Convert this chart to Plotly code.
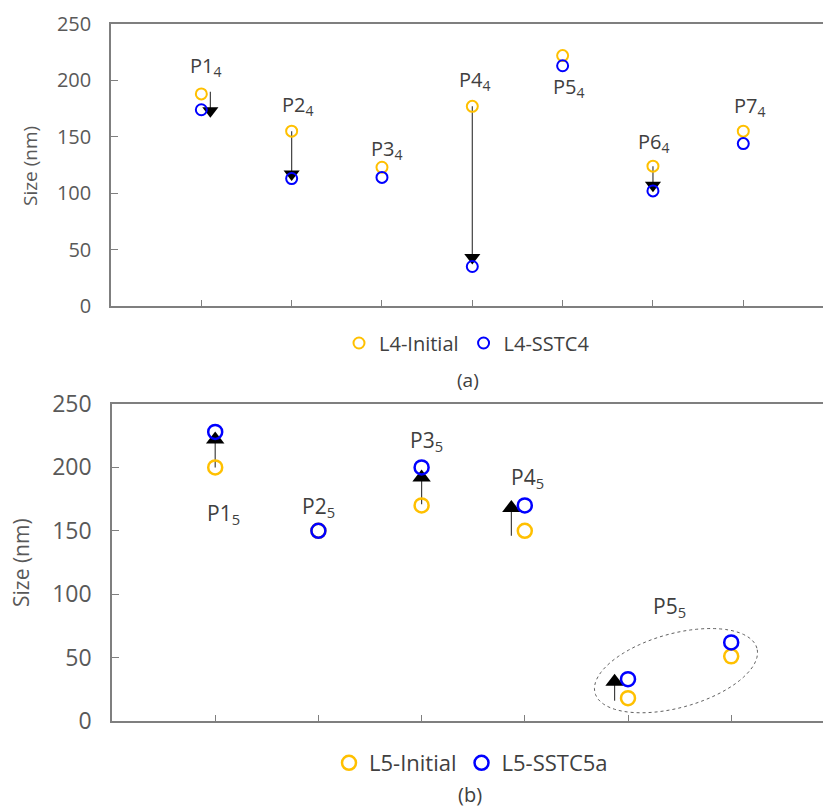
import numpy as np
import plotly.graph_objects as go

# ---------------- data ----------------
top_x = [1, 2, 3, 4, 5, 6, 7]
top_labels = ["P1<sub>4</sub>", "P2<sub>4</sub>", "P3<sub>4</sub>", "P4<sub>4</sub>",
              "P5<sub>4</sub>", "P6<sub>4</sub>", "P7<sub>4</sub>"]
l4_initial = [188, 155, 123, 177, 222, 124, 155]
l4_sstc4 = [174, 113, 114, 35, 213, 102, 144]

bot_x = [1, 2, 3, 4, 5, 6]
bot_labels = ["P1<sub>5</sub>", "P2<sub>5</sub>", "P3<sub>5</sub>", "P4<sub>5</sub>", "P5<sub>5</sub>"]
l5_initial = [200, 150, 170, 150, 18, 51]
l5_sstc5a = [228, 150, 200, 170, 33, 62]

# arrows: x position, start value, head value
top_arrow_x = [1.1, 2, 4, 6]
top_arrow_from = [190, 155, 177, 124]
top_arrow_to = [173, 117, 43, 107]

bot_arrow_x = [1, 3, 3.87, 4.87]
bot_arrow_from = [200, 171, 146, 16]
bot_arrow_to = [222, 192, 168, 31]

# label positions (data units)
top_lab_x = [1.05, 2.07, 3.05, 4.02, 5.07, 6.01, 7.07]
top_lab_y = [212, 178, 139, 200, 194, 145, 177]
bot_lab_x = [1.08, 2.0, 3.05, 4.03, 5.4]
bot_lab_y = [163, 169, 221, 192, 90]

ORANGE = "#FFC000"
BLUE = "#0000FF"
TXT = "#404040"
AX = "#7f7f7f"
FONT = "Open Sans"

fig = go.Figure()

# ---- top panel ----
for xa, y0, y1 in zip(top_arrow_x, top_arrow_from, top_arrow_to):
    fig.add_trace(go.Scatter(x=[xa, xa], y=[y0, y1], mode="lines",
                             line=dict(color="#404040", width=1.2),
                             xaxis="x", yaxis="y", showlegend=False, hoverinfo="skip"))
fig.add_trace(go.Scatter(x=top_arrow_x, y=top_arrow_to, mode="markers",
                         marker=dict(symbol="triangle-down", size=14, color="black"),
                         xaxis="x", yaxis="y", showlegend=False, hoverinfo="skip"))
fig.add_trace(go.Scatter(x=top_x, y=l4_initial, mode="markers", name="L4-Initial",
                         marker=dict(symbol="circle-open", size=11, color=ORANGE, line=dict(width=2)),
                         xaxis="x", yaxis="y", legend="legend"))
fig.add_trace(go.Scatter(x=top_x, y=l4_sstc4, mode="markers", name="L4-SSTC4",
                         marker=dict(symbol="circle-open", size=11, color=BLUE, line=dict(width=2)),
                         xaxis="x", yaxis="y", legend="legend"))

# ---- bottom panel ----
for xa, y0, y1 in zip(bot_arrow_x, bot_arrow_from, bot_arrow_to):
    fig.add_trace(go.Scatter(x=[xa, xa], y=[y0, y1], mode="lines",
                             line=dict(color="#404040", width=1.2),
                             xaxis="x2", yaxis="y2", showlegend=False, hoverinfo="skip"))
fig.add_trace(go.Scatter(x=bot_arrow_x, y=bot_arrow_to, mode="markers",
                         marker=dict(symbol="triangle-up", size=16, color="black"),
                         xaxis="x2", yaxis="y2", showlegend=False, hoverinfo="skip"))
fig.add_trace(go.Scatter(x=bot_x, y=l5_initial, mode="markers", name="L5-Initial",
                         marker=dict(symbol="circle-open", size=14, color=ORANGE, line=dict(width=2.5)),
                         xaxis="x2", yaxis="y2", legend="legend2"))
fig.add_trace(go.Scatter(x=bot_x, y=l5_sstc5a, mode="markers", name="L5-SSTC5a",
                         marker=dict(symbol="circle-open", size=14, color=BLUE, line=dict(width=2.5)),
                         xaxis="x2", yaxis="y2", legend="legend2"))

# ellipse (dashed) around P5_5 group
cx, cy = 5.465, 39.7
a_px, b_px, theta = 84.0, 37.0, np.deg2rad(15.5)
sx, sy = 103.2, 1.268  # px per data unit in bottom panel
t = np.linspace(0, 2 * np.pi, 80)
ex = cx + (a_px * np.cos(t) * np.cos(theta) - b_px * np.sin(t) * np.sin(theta)) / sx
ey = cy + (a_px * np.cos(t) * np.sin(theta) + b_px * np.sin(t) * np.cos(theta)) / sy
path = "M " + " L ".join(f"{x:.4f},{y:.3f}" for x, y in zip(ex, ey)) + " Z"
fig.add_shape(type="path", path=path, xref="x2", yref="y2",
              line=dict(color="#606060", width=1, dash="dot"))

annotations = []
for lx, ly, txt in zip(top_lab_x, top_lab_y, top_labels):
    annotations.append(dict(x=lx, y=ly, xref="x", yref="y", text=txt, showarrow=False,
                            font=dict(family=FONT, size=20, color=TXT)))
for lx, ly, txt in zip(bot_lab_x, bot_lab_y, bot_labels):
    annotations.append(dict(x=lx, y=ly, xref="x2", yref="y2", text=txt, showarrow=False,
                            font=dict(family=FONT, size=21, color=TXT)))
annotations += [
    dict(x=30 / 823, y=1 - 166 / 807, xref="paper", yref="paper", text="Size (nm)",
         xanchor="center", yanchor="middle",
         textangle=-90, showarrow=False, font=dict(family=FONT, size=19, color="#595959")),
    dict(x=21 / 823, y=1 - 563 / 807, xref="paper", yref="paper", text="Size (nm)",
         xanchor="center", yanchor="middle",
         textangle=-90, showarrow=False, font=dict(family=FONT, size=21, color="#595959")),
    dict(x=468 / 823, y=1 - 380 / 807, xref="paper", yref="paper", text="(a)",
         xanchor="center", yanchor="middle",
         showarrow=False, font=dict(family=FONT, size=19, color=TXT)),
    dict(x=470 / 823, y=1 - 794 / 807, xref="paper", yref="paper", text="(b)",
         xanchor="center", yanchor="middle",
         showarrow=False, font=dict(family=FONT, size=20, color=TXT)),
]

xcommon = dict(showgrid=False, zeroline=False, showline=True, linecolor=AX, linewidth=1.5,
               mirror=True, ticks="inside", tickcolor=AX, ticklen=6, showticklabels=False,
               tickmode="array", automargin=False)
ycommon = dict(showgrid=False, zeroline=False, showline=True, linecolor=AX, linewidth=1.5,
               ticks="inside", tickcolor=AX, ticklen=7, range=[0, 250], tickvals=[0, 50, 100, 150, 200, 250],
               ticklabelstandoff=14, automargin=False)

fig.update_layout(
    width=823, height=807,
    margin=dict(l=0, r=0, t=0, b=0, autoexpand=False),
    paper_bgcolor="white", plot_bgcolor="white",
    font=dict(family=FONT, color=TXT),
    xaxis=dict(xcommon, domain=[111 / 823, 1.0], range=[0, 711 / 90.2], tickvals=top_x, anchor="y"),
    yaxis=dict(ycommon, domain=[1 - 306 / 807, 1 - 24 / 807], anchor="x",
               tickfont=dict(family=FONT, size=20, color="#595959")),
    xaxis2=dict(xcommon, domain=[112 / 823, 1.0], range=[0, 711 / 103.2], tickvals=bot_x, anchor="y2"),
    yaxis2=dict(ycommon, domain=[1 - 721 / 807, 1 - 404 / 807], anchor="x2",
                tickfont=dict(family=FONT, size=23, color="#595959")),
    legend=dict(orientation="h", x=467 / 823, y=1 - 343 / 807, xanchor="center", yanchor="middle",
                font=dict(family=FONT, size=20, color=TXT), itemwidth=30, tracegroupgap=0,
                bgcolor="rgba(0,0,0,0)"),
    legend2=dict(orientation="h", x=471 / 823, y=1 - 763 / 807, xanchor="center", yanchor="middle",
                 font=dict(family=FONT, size=22, color=TXT), itemwidth=30,
                 bgcolor="rgba(0,0,0,0)"),
    annotations=annotations,
    showlegend=True,
)

fig.write_html("out.html")
